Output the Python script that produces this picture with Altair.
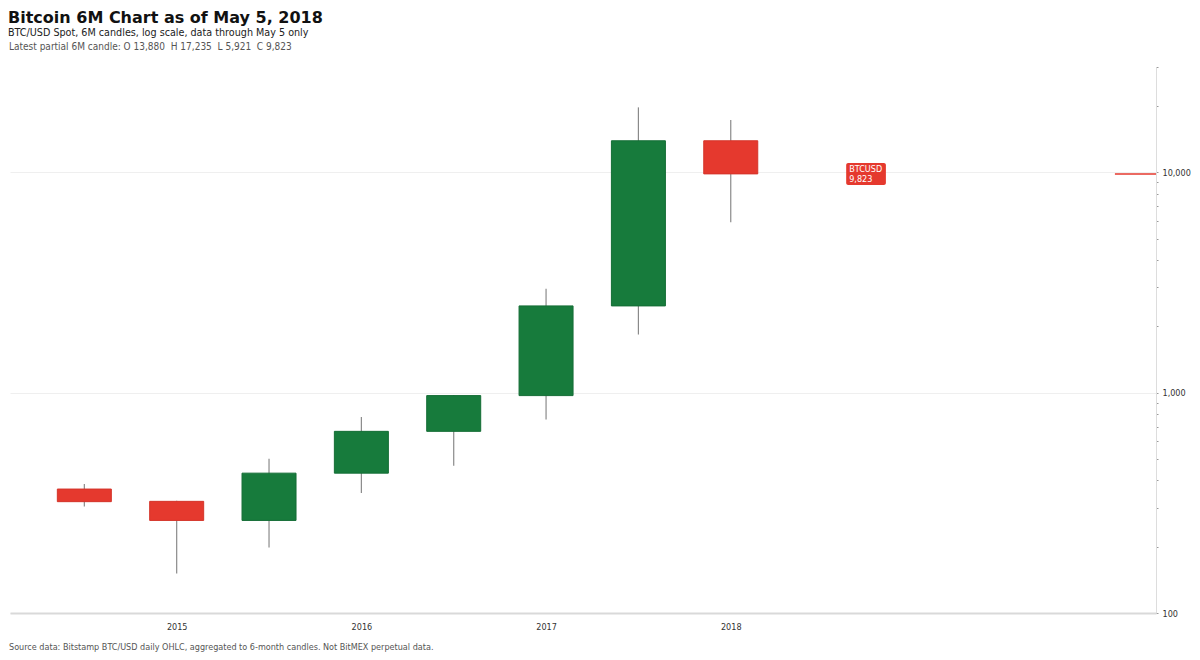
import altair as alt
import pandas as pd

# ---- data ----
periods = ["2014 H2", "2015 H1", "2015 H2", "2016 H1", "2016 H2", "2017 H1", "2017 H2", "2018 H1"]
opens = [365, 321, 263, 431, 667, 969, 2473, 13880]
highs = [385, 323, 501, 775, 976, 2960, 19680, 17235]
lows = [304, 151, 198, 350, 466, 754, 1834, 5921]
closes = [320, 263, 431, 667, 969, 2473, 13880, 9823]

year_ticks = [1, 3, 5, 7]
year_labels = ["2015", "2016", "2017", "2018"]
y_ticks = [100, 200, 300, 400, 500, 600, 700, 800, 900,
           1000, 2000, 3000, 4000, 5000, 6000, 7000, 8000, 9000,
           10000, 20000, 30000]
y_labeled = [100, 1000, 10000]

x_domain = [-0.805, 11.605]
y_domain = [100, 30000]

ticker = "BTCUSD"
last_price = closes[-1]
tag_x = [8.25, 8.68]
price_line_x = [11.16, x_domain[1]]

title_text = "Bitcoin 6M Chart as of May 5, 2018"
subtitle_text = "BTC/USD Spot, 6M candles, log scale, data through May 5 only"
NB = "\u00a0"
latest_text = f"Latest partial 6M candle: O 13,880 {NB}H 17,235 {NB}L 5,921 {NB}C 9,823"
footer_text = "Source data: Bitstamp BTC/USD daily OHLC, aggregated to 6-month candles. Not BitMEX perpetual data."

GREEN = "#177b3c"
RED = "#e5392e"
FONT = "DejaVu Sans"
SMALL = "DejaVu Sans Condensed, DejaVu Sans"

df = pd.DataFrame({
    "period": periods,
    "idx": list(range(len(periods))),
    "open": opens,
    "high": highs,
    "low": lows,
    "close": closes,
})
df["dir"] = ["up" if c >= o else "down" for o, c in zip(opens, closes)]

tag_df = pd.DataFrame({
    "x": [tag_x[0]], "x2": [tag_x[1]], "price": [last_price],
    "label": [f"{ticker}\n{last_price:,}"],
})
line_df = pd.DataFrame({"x": [price_line_x[0]], "x2": [price_line_x[1]], "price": [last_price]})

xscale = alt.Scale(domain=x_domain, nice=False, zero=False, padding=0)
yscale = alt.Scale(type="log", domain=y_domain, nice=False, padding=0)

labels_js = "[" + ",".join(f"'{s}'" for s in year_labels) + "]"
ylab_js = "[" + ",".join(str(v) for v in y_labeled) + "]"

x_enc = alt.X("idx:Q", scale=xscale, title=None,
              axis=alt.Axis(values=year_ticks,
                            labelExpr=f"{labels_js}[(datum.value-1)/2]",
                            ticks=False, grid=False, domainColor="#d9d9d9",
                            domainWidth=2, labelFontSize=9, labelColor="#333333",
                            labelPadding=9, labelFont=SMALL))

y_axis = alt.Axis(orient="right", values=y_ticks, title=None,
                  labelExpr=f"indexof({ylab_js}, datum.value) >= 0 ? format(datum.value, ',') : ''",
                  tickSize=2, tickColor="#999999", domainColor="#dddddd",
                  labelFontSize=9, labelColor="#333333", labelPadding=4, labelFont=SMALL,
                  grid=True, gridColor="#efefef",
                  gridOpacity={"condition": {"test": f"indexof({ylab_js}, datum.value) >= 0", "value": 1}, "value": 0})

base = alt.Chart(df)

wicks = base.mark_rule(color="#8a8a8a", strokeWidth=1.2).encode(
    x=x_enc,
    y=alt.Y("low:Q", scale=yscale, axis=y_axis),
    y2="high:Q",
)

bodies = base.mark_bar(size=54, strokeWidth=1).encode(
    x=alt.X("idx:Q", scale=xscale),
    y=alt.Y("open:Q", scale=yscale),
    y2="close:Q",
    color=alt.Color("dir:N", scale=alt.Scale(domain=["up", "down"], range=[GREEN, RED]), legend=None),
    stroke=alt.Stroke("dir:N", scale=alt.Scale(domain=["up", "down"], range=["#146d35", "#d4342a"]), legend=None),
    tooltip=["period", "open", "high", "low", "close"],
)

price_line = alt.Chart(line_df).mark_rule(color=RED, strokeWidth=1.5).encode(
    x=alt.X("x:Q", scale=xscale), x2="x2:Q",
    y=alt.Y("price:Q", scale=yscale),
)

tag_box = alt.Chart(tag_df).mark_bar(color=RED, size=22, cornerRadius=2, orient="horizontal").encode(
    x=alt.X("x:Q", scale=xscale), x2="x2:Q",
    y=alt.Y("price:Q", scale=yscale),
)

tag_text = alt.Chart(tag_df).mark_text(color="white", fontSize=9, font=SMALL, align="left",
                                       baseline="middle", dx=3, dy=-4.5, lineBreak="\n", lineHeight=9.5).encode(
    x=alt.X("x:Q", scale=xscale),
    y=alt.Y("price:Q", scale=yscale),
    text="label:N",
)

header_line = alt.Chart(pd.DataFrame({"t": [latest_text]})).mark_text(
    align="left", baseline="alphabetic", fontSize=10, color="#555555", font=SMALL
).encode(x=alt.value(-1), y=alt.value(-17), text="t:N")

footer = alt.Chart(pd.DataFrame({"t": [footer_text]})).mark_text(
    align="left", baseline="alphabetic", fontSize=9, color="#555555", font=SMALL
).encode(x=alt.value(-1), y=alt.value(583), text="t:N")

chart = alt.layer(wicks, bodies, price_line, tag_box, tag_text, header_line, footer).properties(
    width=1146, height=546,
    title=alt.Title(title_text, subtitle=subtitle_text,
                    anchor="start", dx=-1, fontSize=16, font=FONT, fontWeight="bold", color="#111111",
                    subtitleFont=SMALL, subtitleFontSize=10.7, subtitleColor="#222222",
                    subtitlePadding=2, offset=4),
    autosize=alt.AutoSizeParams(type="none"),
    padding={"left": 2, "top": 59, "right": 36, "bottom": 39},
).configure(font=FONT, background="white").configure_view(strokeWidth=0)

chart.save("out.html", embed_options={"renderer": "svg", "actions": False})
